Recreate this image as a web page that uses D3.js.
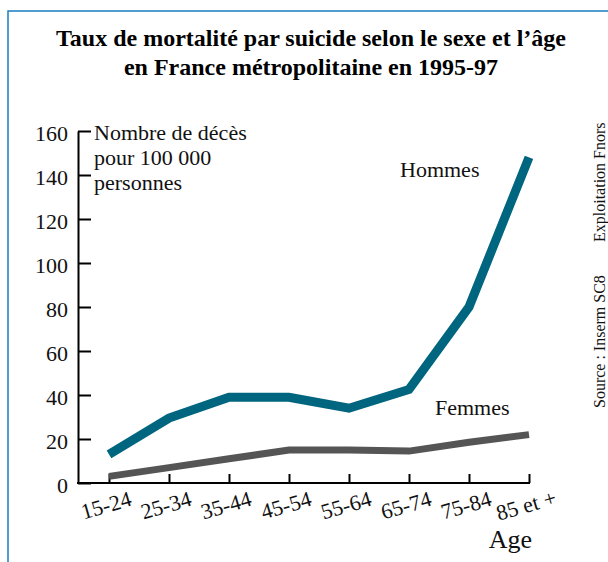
<!DOCTYPE html>
<html>
<head>
<meta charset="utf-8">
<script src="https://cdn.jsdelivr.net/npm/d3@7"></script>
<style>
  body { margin: 0; background: #fff; }
  svg { display: block; }
  svg text { font-family: "Liberation Serif", "Times New Roman", serif; }
</style>
</head>
<body>
<div id="chart"></div>
<script>
// Data
const ages = ["15-24", "25-34", "35-44", "45-54", "55-64", "65-74", "75-84", "85 et +"];
const hommes = [13, 29.5, 39, 39, 34, 42.5, 80, 148];
const femmes = [3, 7, 11, 15, 15, 14.5, 18.5, 22];
const yTicks = [0, 20, 40, 60, 80, 100, 120, 140, 160];

const W = 608, H = 562;

const svg = d3.select("#chart").append("svg")
    .attr("width", W)
    .attr("height", H);

// Frame (blue border at top and left)
svg.append("path")
    .attr("d", `M8,${H} V11 H${W}`)
    .attr("fill", "none")
    .attr("stroke", "#1a7ec0")
    .attr("stroke-width", 1.5);

// Title
const title = svg.append("text")
    .attr("text-anchor", "middle")
    .attr("font-weight", "bold")
    .attr("font-size", 24);
title.append("tspan").attr("x", 311).attr("y", 46)
    .text("Taux de mortalité par suicide selon le sexe et l’âge");
title.append("tspan").attr("x", 311).attr("y", 75)
    .text("en France métropolitaine en 1995-97");

// Scales
const x = d3.scalePoint().domain(ages).range([109, 529]);
const y = d3.scaleLinear().domain([0, 160]).range([483, 131]);
const axisX0 = 78;

// Y axis
const yAxis = svg.append("g")
    .attr("transform", `translate(${axisX0},0)`)
    .call(d3.axisLeft(y).tickValues(yTicks).tickSize(-13).tickSizeOuter(0).tickPadding(10));
yAxis.attr("font-family", null).attr("font-size", null);
yAxis.select(".domain").attr("stroke", "#000").attr("stroke-width", 2);
yAxis.selectAll(".tick line").attr("stroke", "#000").attr("stroke-width", 2);
yAxis.selectAll(".tick text")
    .attr("font-size", 22)
    .attr("fill", "#111")
    .attr("dy", "0.45em");

// X axis
const xAxis = svg.append("g")
    .attr("transform", `translate(0,${y(0)})`)
    .call(d3.axisBottom(x).tickSize(-9).tickSizeOuter(0).tickFormat(""));
xAxis.select(".domain").remove();
xAxis.selectAll(".tick line").attr("stroke", "#000").attr("stroke-width", 2);
xAxis.append("line")
    .attr("x1", axisX0 - 1).attr("x2", x(ages[ages.length - 1]) + 1)
    .attr("stroke", "#000").attr("stroke-width", 2);

svg.append("g").selectAll("text")
    .data(ages)
    .join("text")
    .attr("transform", d => `translate(${x(d) - 3},${505}) rotate(-16)`)
    .attr("text-anchor", "middle")
    .attr("dy", "0.35em")
    .attr("font-size", 22)
    .attr("fill", "#111")
    .text(d => d);

// Lines
const line = d3.line()
    .x((d, i) => x(ages[i]))
    .y(d => y(d));

svg.append("path")
    .datum(femmes)
    .attr("d", line)
    .attr("fill", "none")
    .attr("stroke", "#555555")
    .attr("stroke-width", 7)
    .attr("stroke-linecap", "butt")
    .attr("stroke-linejoin", "miter");

svg.append("path")
    .datum(hommes)
    .attr("d", line)
    .attr("fill", "none")
    .attr("stroke", "#00657f")
    .attr("stroke-width", 9)
    .attr("stroke-linecap", "butt")
    .attr("stroke-linejoin", "miter");

// Axis unit label
const unit = svg.append("text")
    .attr("font-size", 22)
    .attr("fill", "#111");
["Nombre de décès", "pour 100 000", "personnes"].forEach((t, i) => {
    unit.append("tspan").attr("x", 94).attr("y", 140 + i * 25).text(t);
});

// Series labels
svg.append("text")
    .attr("x", 400).attr("y", 177)
    .attr("font-size", 22)
    .attr("fill", "#111")
    .text("Hommes");

svg.append("text")
    .attr("x", 435).attr("y", 415)
    .attr("font-size", 22)
    .attr("fill", "#111")
    .text("Femmes");

svg.append("text")
    .attr("x", 532).attr("y", 548)
    .attr("text-anchor", "end")
    .attr("font-size", 26)
    .attr("fill", "#111")
    .text("Age");

// Source (rotated, cut at right edge)
svg.append("text")
    .attr("transform", "translate(605,408) rotate(-90)")
    .attr("font-size", 16)
    .attr("fill", "#111")
    .text("Source : Inserm SC8");
svg.append("text")
    .attr("transform", "translate(605,242) rotate(-90)")
    .attr("font-size", 16)
    .attr("fill", "#111")
    .text("Exploitation Fnors");
</script>
</body>
</html>
